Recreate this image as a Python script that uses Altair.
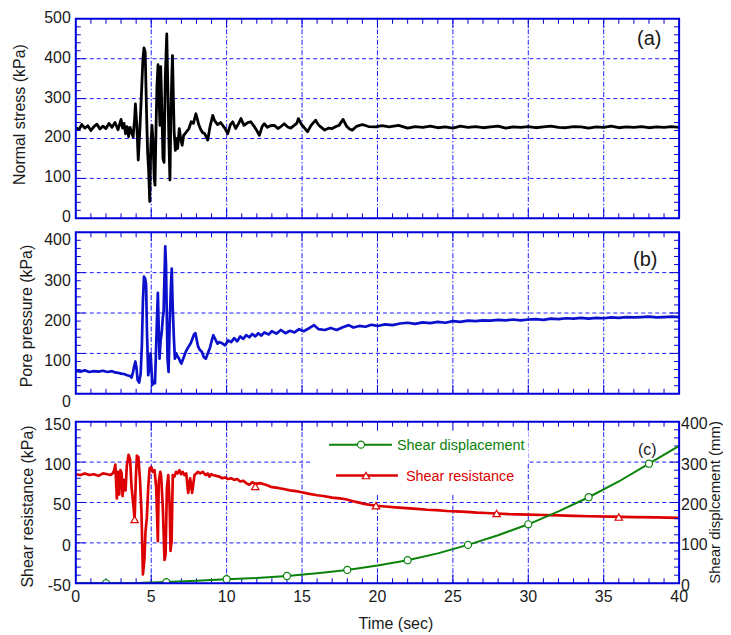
import altair as alt
import pandas as pd

# ---------------- data ----------------
normal_stress = [
    (0.0,228),(0.2,222),(0.4,235),(0.6,226),(0.8,232),(1.0,220),(1.2,230),(1.4,236),(1.6,224),(1.8,231),
    (2.0,225),(2.2,238),(2.4,228),(2.6,240),(2.8,222),(3.0,248),(3.1,226),(3.2,238),(3.3,212),(3.4,230),
    (3.5,205),(3.6,228),(3.7,215),(3.8,204),(3.9,250),(3.95,287),(4.05,230),(4.14,146),(4.25,225),(4.35,310),
    (4.45,400),(4.52,427),(4.6,417),(4.7,250),(4.76,167),(4.83,120),(4.9,42),(4.97,180),(5.05,233),(5.12,190),
    (5.2,100),(5.25,83),(5.32,230),(5.38,330),(5.45,385),(5.52,300),(5.58,233),(5.63,380),(5.7,280),(5.78,150),
    (5.85,140),(5.93,350),(6.03,462),(6.1,330),(6.17,200),(6.24,96),(6.3,250),(6.36,350),(6.41,408),(6.47,300),
    (6.52,217),(6.6,170),(6.67,200),(6.75,175),(6.86,225),(6.95,200),(7.05,183),(7.15,208),(7.3,215),(7.5,225),
    (7.65,242),(7.8,238),(7.96,262),(8.05,250),(8.15,235),(8.25,225),(8.4,215),(8.55,212),(8.75,196),(8.9,230),
    (9.08,258),(9.2,245),(9.4,235),(9.6,240),(9.74,233),(9.9,225),(10.07,212),(10.25,235),(10.4,242),(10.6,225),
    (10.8,238),(10.95,250),(11.15,233),(11.4,240),(11.6,242),(11.85,229),(12.0,220),(12.17,208),(12.35,230),(12.5,237),
    (12.7,228),(12.9,232),(13.16,233),(13.4,225),(13.6,230),(13.82,237),(14.05,229),(14.25,226),(14.48,233),(14.65,238),
    (14.76,250),(14.95,236),(15.1,229),(15.36,217),(15.6,233),(15.9,246),(16.05,236),(16.24,229),(16.5,221),(16.75,226),
    (17.0,225),(17.25,230),(17.45,233),(17.72,248),(17.95,231),(18.15,224),(18.33,221),(18.6,230),(18.8,233),(19.0,235),
    (19.4,230),(19.88,229),(20.3,232),(20.77,229),(21.4,233),(22.0,226),(22.5,230),(23.0,228),(23.5,231),(24.0,227),
    (24.5,229),(25.0,226),(25.5,231),(26.0,228),(26.5,230),(27.0,227),(27.5,229),(28.0,231),(28.5,226),(29.0,229),
    (29.5,228),(30.0,230),(30.5,227),(31.0,229),(31.5,231),(32.0,228),(32.5,227),(33.0,230),(33.5,229),(34.0,226),
    (34.5,229),(35.0,228),(35.5,231),(36.0,227),(36.5,229),(37.0,228),(37.5,230),(38.0,227),(38.5,229),(39.0,228),
    (39.5,230),(40.0,228),
]

pore_pressure = [
    (0.0,57),(0.3,55),(0.6,58),(0.9,54),(1.2,56),(1.5,55),(1.8,57),(2.1,54),(2.4,56),(2.6,53),
    (2.8,52),(3.0,50),(3.2,49),(3.4,46),(3.6,44),(3.7,40),(3.8,55),(3.88,70),(3.95,80),(4.02,65),
    (4.1,34),(4.2,28),(4.3,50),(4.38,120),(4.45,230),(4.52,290),(4.6,285),(4.66,270),(4.72,150),(4.8,46),
    (4.86,60),(4.91,85),(4.96,100),(5.02,60),(5.08,22),(5.15,30),(5.25,26),(5.32,110),(5.38,186),(5.44,250),
    (5.5,160),(5.55,87),(5.62,130),(5.7,153),(5.77,190),(5.82,202),(5.87,280),(5.93,365),(5.98,320),(6.03,200),
    (6.08,87),(6.15,54),(6.22,170),(6.3,260),(6.36,310),(6.42,220),(6.5,140),(6.57,87),(6.66,100),(6.75,92),
    (6.85,87),(6.92,80),(7.0,75),(7.1,85),(7.2,95),(7.3,105),(7.4,112),(7.5,118),(7.62,125),(7.75,138),
    (7.85,148),(7.93,150),(8.0,137),(8.1,118),(8.2,110),(8.35,104),(8.5,90),(8.62,87),(8.75,100),(8.9,115),
    (9.0,130),(9.12,145),(9.25,135),(9.39,124),(9.5,128),(9.7,125),(9.9,120),(10.1,132),(10.3,128),(10.5,138),
    (10.7,130),(10.9,142),(11.1,136),(11.3,145),(11.5,140),(11.7,148),(11.9,142),(12.1,150),(12.3,144),(12.5,152),
    (12.8,147),(13.0,155),(13.3,149),(13.6,158),(13.9,150),(14.2,156),(14.5,152),(14.8,160),(15.1,155),(15.5,163),
    (15.8,170),(16.1,160),(16.5,158),(16.9,163),(17.3,158),(17.7,165),(18.1,170),(18.4,164),(18.8,168),(19.2,166),
    (19.6,171),(20.0,168),(20.5,172),(21.0,170),(21.5,174),(22.0,176),(22.5,173),(23.0,177),(23.5,175),(24.0,178),
    (24.5,176),(25.0,180),(25.5,178),(26.0,181),(26.5,180),(27.0,182),(27.5,181),(28.0,183),(28.5,182),(29.0,184),
    (29.5,182),(30.0,184),(30.5,185),(31.0,183),(31.5,186),(32.0,185),(32.5,187),(33.0,186),(33.5,188),(34.0,186),
    (34.5,188),(35.0,187),(35.5,189),(36.0,188),(36.5,190),(37.0,189),(37.5,190),(38.0,191),(38.5,189),(39.0,190),
    (39.5,191),(40.0,190),
]

shear_resistance = [
    (0.0,85),(0.3,84),(0.6,86),(0.9,84),(1.2,85),(1.5,83),(1.8,86),(2.1,85),(2.3,84),(2.45,86),
    (2.55,90),(2.62,97),(2.72,55),(2.8,88),(2.88,60),(2.96,90),(3.04,86),(3.1,58),(3.2,78),(3.3,65),
    (3.38,95),(3.5,109),(3.6,103),(3.7,68),(3.8,50),(3.9,30),(3.98,80),(4.05,108),(4.15,106),(4.25,80),
    (4.35,40),(4.45,-39),(4.55,-20),(4.62,14),(4.71,31),(4.8,68),(4.89,92),(5.0,94),(5.1,88),(5.22,90),
    (5.33,68),(5.44,2),(5.5,76),(5.6,88),(5.66,82),(5.77,43),(5.88,-21),(5.95,-15),(6.04,68),(6.13,84),
    (6.22,47),(6.28,-10),(6.35,2),(6.43,84),(6.54,82),(6.65,88),(6.76,86),(6.87,90),(6.98,85),(7.09,88),
    (7.2,84),(7.32,86),(7.45,62),(7.58,80),(7.71,62),(7.87,84),(8.0,86),(8.09,88),(8.25,86),(8.42,88),
    (8.55,85),(8.64,84),(8.75,86),(8.86,82),(8.97,85),(9.08,84),(9.3,83),(9.52,82),(9.7,80),(9.9,81),
    (10.1,79),(10.3,80),(10.5,78),(10.7,79),(10.9,76),(11.1,77),(11.3,74),(11.5,72),(11.7,75),(11.9,73),
    (12.2,74),(12.6,72),(13.0,69),(13.4,68),(13.7,67),(14.2,65),(14.6,64),(14.9,63),(15.4,61),(16.0,59),
    (16.4,58),(17.0,56),(17.5,55),(17.9,54),(18.5,51),(19.2,48),(19.9,46),(20.5,45),(21.2,44),(21.9,43),
    (22.6,42),(23.3,41),(23.9,40.5),(24.6,39.5),(25.2,39),(25.9,38.4),(26.6,37.5),(27.2,37),(27.9,36.4),(28.7,35.5),
    (30.0,35),(31.0,34.5),(32.0,34),(33.0,33.5),(34.0,33),(35.5,32.5),(37.0,32),(38.5,31.5),(40.0,31),
]

shear_displacement = [
    (0.0,0),(2.0,0),(4.0,0),(4.5,1),(6.0,3),(8.0,6),(10.0,10),(12.0,13),(14.0,18),(16.0,25),
    (18.0,33),(20.0,44),(22.0,57),(24.0,74),(26.0,95),(28.0,119),(30.0,146),(32.0,178),(34.0,213),(36.0,252),
    (38.0,296),(40.0,340),
]

sr_marker_t = [3.9, 11.9, 19.9, 27.9, 36.0]
sr_marker_v = [29, 70, 46, 36.5, 32]
sd_marker_t = [2, 6, 10, 14, 18, 22, 26, 30, 34, 38]
sd_marker_d = [0, 3, 10, 18, 33, 57, 95, 146, 213, 296]

x_label_values = [0, 5, 10, 15, 20, 25, 30, 35, 40]
x_major_ticks = [5, 10, 15, 20, 25, 30, 35]
x_minor_ticks = [t for t in range(1, 40) if t % 5]
a_values = [0, 100, 200, 300, 400, 500]
b_values = [0, 100, 200, 300, 400]
c_values = [-50, 0, 50, 100, 150]
r_values = [0, 100, 200, 300, 400]
axis_titles = ["Normal stress (kPa)", "Pore pressure (kPa)", "Shear resistance (kPa)",
               "Shear displcement (mm)", "Time (sec)"]
legend_labels = ["Shear displacement", "Shear resistance"]
panel_tags = ["(a)", "(b)", "(c)"]

# ---------------- styling ----------------
W = 605
HA, HB = 200, 162
HC = 162          # frame height of panel (c)
GAP = 14          # extra room above panel (c) frame
HC_TOT = HC + GAP
FRAME = "#0000d8"
GRIDC = "#1c1cff"
BLUE = "#0a10cc"
RED = "#dd0000"
GREEN = "#0a820a"
TXT = "#1a1a1a"
FONT = "Liberation Sans"
FS = 16

XS = alt.Scale(domain=[0, 40], nice=False, zero=False)
YA = alt.Scale(domain=[0, 500], nice=False, zero=False)
YB = alt.Scale(domain=[0, 400], nice=False, zero=False)
YC = alt.Scale(domain=[-50, 150], nice=False, zero=False, range=[HC_TOT, GAP])
YR = alt.Scale(domain=[0, 400], nice=False, zero=False, range=[HC_TOT, GAP])

one = pd.DataFrame({"k": [0]})


def xgrid(top, bottom):
    d = pd.DataFrame({"t": x_major_ticks})
    return alt.Chart(d).mark_rule(color=GRIDC, strokeWidth=1, strokeDash=[5, 2, 1.5, 2]).encode(
        x=alt.X("t:Q", scale=XS, axis=None), y=alt.value(top), y2=alt.value(bottom))


def ygrid(vals, scale):
    d = pd.DataFrame({"v": vals})
    return alt.Chart(d).mark_rule(color=GRIDC, strokeWidth=1, strokeDash=[4, 3]).encode(
        y=alt.Y("v:Q", scale=scale, axis=None), x=alt.value(0), x2=alt.value(W))


def ylabels(vals, scale, x, align, dy):
    d = pd.DataFrame({"v": vals, "lab": [str(v) for v in vals]})
    return alt.Chart(d).mark_text(fontSize=FS, font=FONT, color=TXT, align=align,
                                  baseline="middle", dy=dy).encode(
        y=alt.Y("v:Q", scale=scale, axis=None), x=alt.value(x), text="lab:N")


def xlabels(y):
    d = pd.DataFrame({"t": x_label_values, "lab": [str(v) for v in x_label_values]})
    return alt.Chart(d).mark_text(fontSize=FS, font=FONT, color=TXT, align="center",
                                  baseline="middle").encode(
        x=alt.X("t:Q", scale=XS, axis=None), y=alt.value(y), text="lab:N")


def vtitle(text, x, y, size=FS):
    return alt.Chart(one).mark_text(text=text, fontSize=size, font=FONT, color=TXT, angle=270,
                                    align="center", baseline="middle").encode(
        x=alt.value(x), y=alt.value(y))


def tick_layers(top, bottom, yscale, ymin, ymaj):
    out = []
    for vals, L in ((x_minor_ticks, 5), (x_major_ticks, 9)):
        d = pd.DataFrame({"t": vals})
        out.append(alt.Chart(d).mark_rule(color=FRAME, strokeWidth=1).encode(
            x=alt.X("t:Q", scale=XS, axis=None), y=alt.value(top), y2=alt.value(top + L)))
        out.append(alt.Chart(d).mark_rule(color=FRAME, strokeWidth=1).encode(
            x=alt.X("t:Q", scale=XS, axis=None), y=alt.value(bottom), y2=alt.value(bottom - L)))
    for vals, L in ((ymin, 5), (ymaj, 9)):
        d = pd.DataFrame({"v": vals})
        out.append(alt.Chart(d).mark_rule(color=FRAME, strokeWidth=1).encode(
            y=alt.Y("v:Q", scale=yscale, axis=None), x=alt.value(0), x2=alt.value(L)))
        out.append(alt.Chart(d).mark_rule(color=FRAME, strokeWidth=1).encode(
            y=alt.Y("v:Q", scale=yscale, axis=None), x=alt.value(W), x2=alt.value(W - L)))
    return out


def frame(top, bottom):
    return alt.Chart(one).mark_rect(fillOpacity=0, stroke=FRAME, strokeWidth=2).encode(
        x=alt.value(0), x2=alt.value(W), y=alt.value(top), y2=alt.value(bottom))


def tag(text, x, y, size):
    return alt.Chart(one).mark_text(text=text, fontSize=size, color=TXT, font=FONT,
                                    align="center", baseline="middle").encode(
        x=alt.value(x), y=alt.value(y))


# ---------------- panel (a) ----------------
df_a = pd.DataFrame(normal_stress, columns=["t", "v"])
line_a = alt.Chart(df_a).mark_line(color="black", strokeWidth=2.8, clip=True, strokeJoin="round").encode(
    x=alt.X("t:Q", scale=XS, axis=None),
    y=alt.Y("v:Q", scale=YA, axis=None),
)
a_min = [v for v in range(20, 500, 20) if v % 100]
panel_a = alt.layer(
    xgrid(0, HA), ygrid([100, 200, 300, 400], YA), line_a,
    *tick_layers(0, HA, YA, a_min, [100, 200, 300, 400]),
    ylabels(a_values, YA, -5, "right", -1), vtitle(axis_titles[0], -56, 96),
    tag(panel_tags[0], 575, 20, 20), frame(0, HA)
).properties(width=W, height=HA)

# ---------------- panel (b) ----------------
df_b = pd.DataFrame(pore_pressure, columns=["t", "v"])
line_b = alt.Chart(df_b).mark_line(color=BLUE, strokeWidth=2.7, clip=True, strokeJoin="round").encode(
    x=alt.X("t:Q", scale=XS, axis=None),
    y=alt.Y("v:Q", scale=YB, axis=None),
)
b_min = [v for v in range(20, 400, 20) if v % 100]
panel_b = alt.layer(
    xgrid(0, HB), ygrid([100, 200, 300], YB), line_b,
    *tick_layers(0, HB, YB, b_min, [100, 200, 300]),
    ylabels(b_values, YB, -5, "right", 8), vtitle(axis_titles[1], -49, 84),
    tag(panel_tags[1], 571, 28, 20), frame(0, HB)
).properties(width=W, height=HB)

# ---------------- panel (c) ----------------
df_c = pd.DataFrame(shear_resistance, columns=["t", "v"])
df_d = pd.DataFrame(shear_displacement, columns=["t", "d"])
df_cm = pd.DataFrame({"t": sr_marker_t, "v": sr_marker_v})
df_dm = pd.DataFrame({"t": sd_marker_t, "d": sd_marker_d})

box1 = alt.Chart(one).mark_rect(color="white").encode(
    x=alt.value(237), x2=alt.value(454), y=alt.value(GAP + 1), y2=alt.value(GAP + 42))
box2 = alt.Chart(one).mark_rect(color="white").encode(
    x=alt.value(237), x2=alt.value(445), y=alt.value(GAP + 1), y2=alt.value(GAP + 72))

line_c = alt.Chart(df_c).mark_line(color=RED, strokeWidth=2.7, clip=True, strokeJoin="round").encode(
    x=alt.X("t:Q", scale=XS, axis=None),
    y=alt.Y("v:Q", scale=YC, axis=None),
)
marks_c = alt.Chart(df_cm).mark_point(shape="triangle-up", filled=True, fill="white", stroke=RED,
                                      strokeWidth=1.2, size=55, opacity=1).encode(
    x=alt.X("t:Q", scale=XS, axis=None), y=alt.Y("v:Q", scale=YC, axis=None))

leg_g_line = alt.Chart(one).mark_rule(color=GREEN, strokeWidth=2).encode(
    x=alt.value(254), x2=alt.value(317), y=alt.value(GAP + 23))
leg_g_pt = alt.Chart(one).mark_point(shape="circle", filled=True, fill="white", stroke=GREEN,
                                     strokeWidth=1.2, size=50, opacity=1).encode(
    x=alt.value(286), y=alt.value(GAP + 23))
leg_g_txt = alt.Chart(one).mark_text(text=legend_labels[0], fontSize=14.5, color=GREEN, font=FONT,
                                     align="left", baseline="middle").encode(
    x=alt.value(322), y=alt.value(GAP + 24))
leg_r_line = alt.Chart(one).mark_rule(color=RED, strokeWidth=2.6).encode(
    x=alt.value(261), x2=alt.value(323), y=alt.value(GAP + 54))
leg_r_pt = alt.Chart(one).mark_point(shape="triangle-up", filled=True, fill="white", stroke=RED,
                                     strokeWidth=1.2, size=55, opacity=1).encode(
    x=alt.value(291), y=alt.value(GAP + 54))
leg_r_txt = alt.Chart(one).mark_text(text=legend_labels[1], fontSize=14.5, color=RED, font=FONT,
                                     align="left", baseline="middle").encode(
    x=alt.value(331), y=alt.value(GAP + 55))

c_min = [v for v in range(-40, 150, 10) if v % 50]
left_group = alt.layer(
    xgrid(GAP, HC_TOT), ygrid([0, 50, 100], YC), box1, box2, line_c,
    *tick_layers(GAP, HC_TOT, YC, c_min, [0, 50, 100]), marks_c,
    leg_g_line, leg_g_pt, leg_g_txt, leg_r_line, leg_r_pt, leg_r_txt,
    tag(panel_tags[2], 573, GAP + 28, 16),
    ylabels(c_values, YC, -5, "right", 3), vtitle(axis_titles[2], -48, GAP + 85),
    xlabels(HC_TOT + 14),
    alt.Chart(one).mark_text(text=axis_titles[4], fontSize=FS, font=FONT, color=TXT,
                             align="center", baseline="middle").encode(
        x=alt.value(321), y=alt.value(HC_TOT + 41)),
)

line_d = alt.Chart(df_d).mark_line(color=GREEN, strokeWidth=2, clip=True).encode(
    x=alt.X("t:Q", scale=XS, axis=None),
    y=alt.Y("d:Q", scale=YR, axis=None),
)
marks_d = alt.Chart(df_dm).mark_point(shape="circle", filled=True, fill="white", stroke=GREEN,
                                      strokeWidth=1.2, size=50, opacity=1, clip=True).encode(
    x=alt.X("t:Q", scale=XS, axis=None), y=alt.Y("d:Q", scale=YR, axis=None))
right_group = alt.layer(
    line_d, marks_d,
    ylabels(r_values, YR, W + 2, "left", 2.5),
    vtitle(axis_titles[3], W + 35.5, GAP + 81, 15),
)

panel_c = alt.layer(left_group, right_group, frame(GAP, HC_TOT)).resolve_scale(
    y="independent").properties(width=W, height=HC_TOT)

chart = alt.vconcat(panel_a, panel_b, panel_c, spacing=14, bounds="flush").properties(
    padding={"left": 4, "top": 1, "right": 0, "bottom": 0}
).configure_view(strokeOpacity=0)

chart.save("out.html", embed_options={"renderer": "svg", "actions": False})
